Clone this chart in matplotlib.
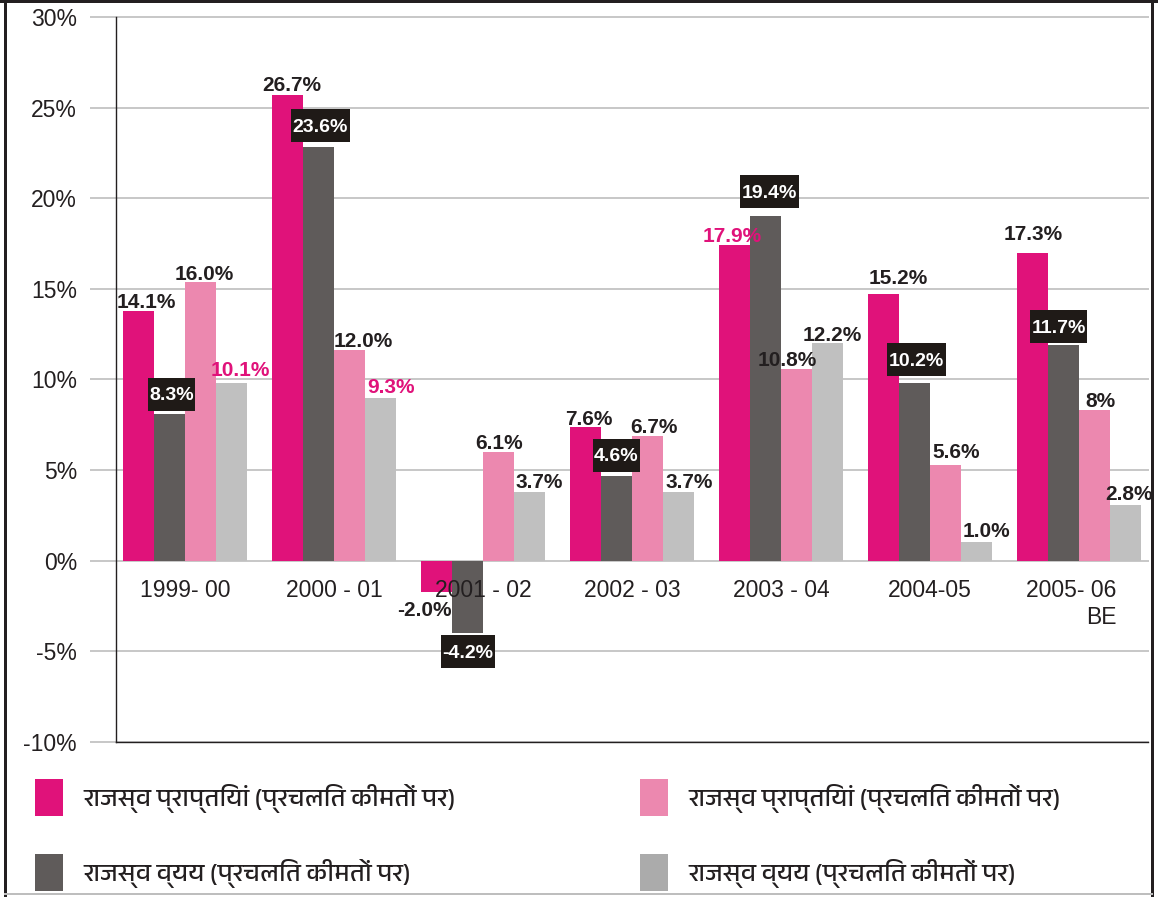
import matplotlib
matplotlib.use("Agg")
import matplotlib.pyplot as plt
import numpy as np
from matplotlib.patches import Patch
from matplotlib.path import Path
from matplotlib.lines import Line2D
import matplotlib.font_manager as fm
from matplotlib.ft2font import FT2Font

# ---------------- data ----------------
categories = ["1999- 00", "2000 - 01", "2001 - 02", "2002 - 03",
              "2003 - 04", "2004-05", "2005- 06\nBE"]

# bar heights as drawn in the picture (%)
receipts_a = [13.8, 25.7, -1.7, 7.4, 17.4, 14.7, 17.0]
expenditure_a = [8.1, 22.8, -4.0, 4.7, 19.0, 9.8, 11.9]
receipts_b = [15.4, 11.6, 6.0, 6.9, 10.6, 5.3, 8.3]
expenditure_b = [9.8, 9.0, 3.8, 3.8, 12.0, 1.05, 3.1]

# printed value labels
labels_receipts_a = ["14.1%", "26.7%", "-2.0%", "7.6%", "17.9%", "15.2%", "17.3%"]
labels_expenditure_a = ["8.3%", "23.6%", "-4.2%", "4.6%", "19.4%", "10.2%", "11.7%"]
labels_receipts_b = ["16.0%", "12.0%", "6.1%", "6.7%", "10.8%", "5.6%", "8%"]
labels_expenditure_b = ["10.1%", "9.3%", "3.7%", "3.7%", "12.2%", "1.0%", "2.8%"]

legend_labels = ["राजस्व प्राप्तियां (प्रचलित कीमतों पर)",
                 "राजस्व व्यय (प्रचलित कीमतों पर)",
                 "राजस्व प्राप्तियां (प्रचलित कीमतों पर)",
                 "राजस्व व्यय (प्रचलित कीमतों पर)"]

y_ticks = [-10, -5, 0, 5, 10, 15, 20, 25, 30]
y_tick_labels = ["-10%", "-5%", "0%", "5%", "10%", "15%", "20%", "25%", "30%"]

# ---------------- styles / positions (pixels) ----------------
PINK = "#E0127A"
DARK = "#5F5B5A"
LPINK = "#EC88AF"
LGRAY = "#C0C0C0"
LGRAY_LEG = "#ABABAB"
TXT = "#231F20"
BOXC = "#1F1A17"
GRID = "#C8C8C8"

# label offsets (dx, dy) in pixels
off_a = [(8, 3), (4, 4), (-12, -9), (3, 2), (-2, 3), (15, 10), (1, 13)]
col_a = [TXT, TXT, TXT, TXT, PINK, TXT, TXT]
off_b = [(2, 3), (2, 5), (0, -2), (0, 4), (4, 8), (2, 7), (-5, 2)]
off_c = [(4, 2), (14, 3), (1, 3), (6, 3), (-9, 3), (11, 7), (6, 3)]
off_d = [(9, 7), (10, 5), (10, 4), (11, 4), (5, 2), (10, 5), (3, 5)]
col_d = [PINK, PINK, TXT, TXT, TXT, TXT, TXT]
cat_dx = [0, 0, 0, 0, 0, 0, -8]

W, H, DPI = 1158, 897, 100


def find_font(cp, prefer=()):
    names = sorted({(f.name, f.fname) for f in fm.fontManager.ttflist},
                   key=lambda t: (0 if any(p in t[0] for p in prefer) else 1, t[0]))
    for name, fname in names:
        try:
            if cp in FT2Font(fname).get_charmap():
                return name
        except Exception:
            pass
    return None


deva = find_font(0x0930, prefer=("Devanagari", "Hind", "Mukta", "Lohit"))
leg_family = [deva, "Liberation Sans", "DejaVu Sans"] if deva else ["DejaVu Sans"]

plt.rcParams["font.family"] = ["Liberation Sans", "DejaVu Sans"]

fig = plt.figure(figsize=(W / DPI, H / DPI), dpi=DPI)
ax = fig.add_axes([116 / W, 1 - 742 / H, (1148 - 116) / W, (742 - 17) / H])

x = np.arange(len(categories))
gw = 149.0
bw = 31 / gw
ax.set_xlim((116 - 185) / gw, (1148 - 185) / gw)
ax.set_ylim(-10, 30)

series = [receipts_a, expenditure_a, receipts_b, expenditure_b]
colors = [PINK, DARK, LPINK, LGRAY]
for k, (vals, c) in enumerate(zip(series, colors)):
    ax.bar(x + (k - 1.5) * bw, vals, width=bw, color=c, linewidth=0, zorder=2)

# axes styling
ax.set_yticks(y_ticks)
ax.set_yticklabels(y_tick_labels)
ax.yaxis.grid(True, color=GRID, linewidth=1.44, zorder=0)
ax.set_axisbelow(True)
for gl in ax.get_ygridlines():
    gl.set_clip_on(False)
ax.tick_params(axis="y", length=26 * 72 / DPI, width=1.44, color=GRID, pad=9.4,
               labelsize=16.5, labelcolor=TXT)
ax.yaxis.get_major_ticks()[0].tick1line.set_color(TXT)
ax.set_xticks([])
for s in ("top", "right"):
    ax.spines[s].set_visible(False)
ax.spines["left"].set_color(TXT)
ax.spines["left"].set_linewidth(1.0)
ax.spines["bottom"].set_color(TXT)
ax.spines["bottom"].set_linewidth(1.0)

# category labels just under zero line
for i, cat in enumerate(categories):
    ax.annotate(cat, xy=(x[i], 0), xytext=(cat_dx[i], -18), textcoords="offset pixels",
                ha="center", va="top", fontsize=16.5, color=TXT, multialignment="right",
                linespacing=1.25)

BOXH = 33  # px


def label_box(x0, y0, width, height, mutation_size, *args, **kwargs):
    px = 1.5
    yc = y0 + height / 2 + 1.5
    verts = [(x0 - px, yc - BOXH / 2), (x0 + width + px, yc - BOXH / 2),
             (x0 + width + px, yc + BOXH / 2), (x0 - px, yc + BOXH / 2),
             (x0 - px, yc - BOXH / 2)]
    return Path(verts, closed=True)


LFS = 15
# series a labels
for i, (v, lab) in enumerate(zip(receipts_a, labels_receipts_a)):
    dx, dy = off_a[i]
    xi = x[i] - 1.5 * bw
    ax.annotate(lab, xy=(xi, v), xytext=(dx, dy), textcoords="offset pixels",
                ha="center", va="baseline" if v >= 0 else "top", fontsize=LFS,
                fontweight="bold", color=col_a[i], zorder=5)

# series b labels (white on black boxes)
for i, (v, lab) in enumerate(zip(expenditure_a, labels_expenditure_a)):
    dx, dy = off_b[i]
    xi = x[i] - 0.5 * bw
    yo = dy + BOXH / 2 if v >= 0 else dy - BOXH / 2
    ax.annotate(lab, xy=(xi, v), xytext=(dx, yo - 1.5), textcoords="offset pixels",
                ha="center", va="center", fontsize=14, fontweight="bold",
                color="white", zorder=6,
                bbox=dict(boxstyle=label_box, facecolor=BOXC, edgecolor="none"))

# series c labels
for i, (v, lab) in enumerate(zip(receipts_b, labels_receipts_b)):
    dx, dy = off_c[i]
    ax.annotate(lab, xy=(x[i] + 0.5 * bw, v), xytext=(dx, dy), textcoords="offset pixels",
                ha="center", va="baseline", fontsize=LFS, fontweight="bold",
                color=TXT, zorder=5)

# series d labels
for i, (v, lab) in enumerate(zip(expenditure_b, labels_expenditure_b)):
    dx, dy = off_d[i]
    ax.annotate(lab, xy=(x[i] + 1.5 * bw, v), xytext=(dx, dy), textcoords="offset pixels",
                ha="center", va="baseline", fontsize=LFS, fontweight="bold",
                color=col_d[i], zorder=5, annotation_clip=False)

# legends (two columns)
LEGFS = 18.5
fs_px = LEGFS * DPI / 72
hh = (37 / fs_px - 0.245) / 0.65
leg_kw = dict(loc="upper left", frameon=False, borderpad=0, borderaxespad=0,
              handlelength=28 / fs_px, handleheight=hh,
              handletextpad=20 / fs_px, labelspacing=38 / fs_px,
              prop=fm.FontProperties(family=leg_family, size=LEGFS))
h1 = [Patch(facecolor=PINK, edgecolor="none"), Patch(facecolor=DARK, edgecolor="none")]
h2 = [Patch(facecolor=LPINK, edgecolor="none"), Patch(facecolor=LGRAY_LEG, edgecolor="none")]
leg1 = fig.legend(h1, legend_labels[:2], bbox_to_anchor=(35 / W, 1 - 779 / H), **leg_kw)
leg2 = fig.legend(h2, legend_labels[2:], bbox_to_anchor=(640 / W, 1 - 779 / H), **leg_kw)
for lg in (leg1, leg2):
    for t in lg.get_texts():
        t.set_color(TXT)

# outer frame
fig.add_artist(Line2D([0, 1], [1 - 1.5 / H] * 2, transform=fig.transFigure, color=TXT, lw=3 * 72 / DPI))
fig.add_artist(Line2D([5 / W] * 2, [0, 1], transform=fig.transFigure, color=TXT, lw=3 * 72 / DPI))
fig.add_artist(Line2D([1152 / W] * 2, [0, 1], transform=fig.transFigure, color=TXT, lw=3 * 72 / DPI))
fig.add_artist(Line2D([5 / W, 1152 / W], [1 - 894 / H] * 2, transform=fig.transFigure,
                      color="#BEBEBE", lw=2 * 72 / DPI))

fig.savefig("out.png", dpi=DPI)
